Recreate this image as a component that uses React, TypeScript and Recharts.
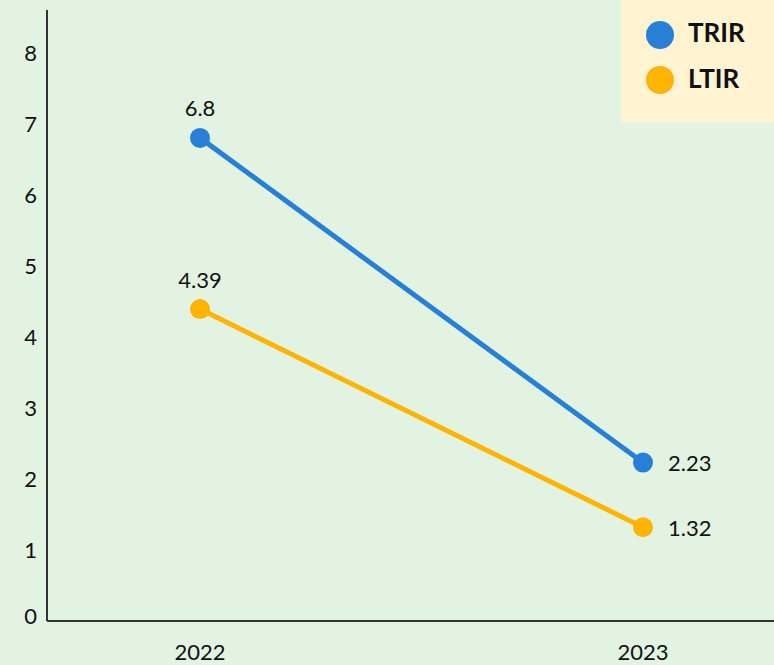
import React from "react";
import { LineChart, Line, XAxis, YAxis, LabelList } from "recharts";

const years = ["2022", "2023"];
const trir = [6.8, 2.23];
const ltir = [4.39, 1.32];
const yTicks = [0, 1, 2, 3, 4, 5, 6, 7, 8];

const BLUE = "#2880d6";
const ORANGE = "#ffb400";
const FONT = "Lato, 'Open Sans', sans-serif";

const data = years.map((y, i) => ({ year: y, TRIR: trir[i], LTIR: ltir[i] }));

const renderLabel = (props: any) => {
  const { x, y, value, index } = props;
  if (index === 0) {
    return (
      <text x={x} y={y - 30} textAnchor="middle" dominantBaseline="central" fontSize={22} fill="#111" fontFamily={FONT}>
        {value}
      </text>
    );
  }
  return (
    <text x={x + 25} y={y} textAnchor="start" dominantBaseline="central" fontSize={22} fill="#111" fontFamily={FONT}>
      {value}
    </text>
  );
};

const YTick = (props: any) => {
  const { x, y, payload } = props;
  const shift = payload.value === 0 ? -6 : 0;
  return (
    <text x={x} y={y + shift} textAnchor="end" dominantBaseline="central" fontSize={22} fill="#111" fontFamily={FONT}>
      {payload.value}
    </text>
  );
};

const LegendBox = () => (
  <div style={{ position: "absolute", top: 0, right: 0, width: 153, height: 123, background: "#fff3d2", fontFamily: FONT }}>
    {[
      { name: "TRIR", color: BLUE, top: 21, dy: -3 },
      { name: "LTIR", color: ORANGE, top: 66, dy: -2 },
    ].map((it) => (
      <div key={it.name} style={{ position: "absolute", left: 25, top: it.top, display: "flex", alignItems: "center", height: 28 }}>
        <div style={{ width: 28, height: 28, borderRadius: 14, background: it.color }} />
        <span style={{ marginLeft: 14, fontSize: 26, fontWeight: 700, color: "#111", position: "relative", top: it.dy }}>{it.name}</span>
      </div>
    ))}
  </div>
);

export default function App() {
  return (
    <div style={{ width: 774, height: 665, background: "#e2f3e2", position: "relative" }}>
      <style>{`body{margin:0}`}</style>
      <LineChart width={774} height={665} data={data} margin={{ top: 10, right: 0, bottom: 0, left: 0 }}>
        <XAxis
          dataKey="year"
          padding={{ left: 153, right: 131 }}
          tickLine={false}
          axisLine={{ stroke: "#333", strokeWidth: 2 }}
          height={44}
          tickMargin={17}
          tick={{ fontSize: 22, fill: "#111", fontFamily: FONT }}
        />
        <YAxis
          domain={[0, 8.6]}
          ticks={yTicks}
          width={47}
          tickLine={false}
          axisLine={{ stroke: "#333", strokeWidth: 2 }}
          tickMargin={4}
          tick={<YTick />}
        />
        <Line
          dataKey="TRIR"
          stroke={BLUE}
          strokeWidth={5}
          dot={{ r: 10, fill: BLUE, stroke: "none" }}
          activeDot={false}
          isAnimationActive={false}
        >
          <LabelList dataKey="TRIR" content={renderLabel} />
        </Line>
        <Line
          dataKey="LTIR"
          stroke={ORANGE}
          strokeWidth={5}
          dot={{ r: 10, fill: ORANGE, stroke: "none" }}
          activeDot={false}
          isAnimationActive={false}
        >
          <LabelList dataKey="LTIR" content={renderLabel} />
        </Line>
      </LineChart>
      <LegendBox />
    </div>
  );
}
